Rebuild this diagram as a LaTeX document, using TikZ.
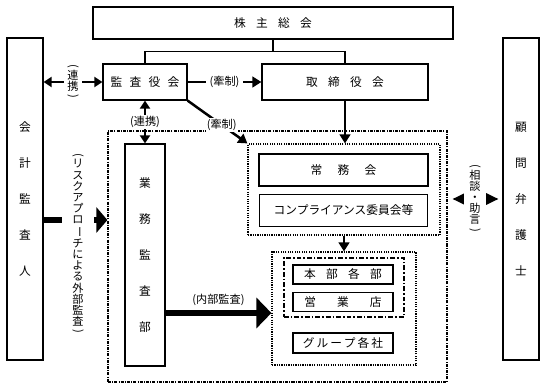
\documentclass[tikz,border=0pt]{standalone}
\usepackage{fontspec}
\usepackage{graphicx}
\setmainfont{Noto Sans CJK JP}
\usetikzlibrary{arrows.meta, positioning, calc}
\newlength\pxl
\setlength\pxl{0.03cm}
\newcommand\vop{\rotatebox[origin=c]{-90}{(}}
\newcommand\vcl{\rotatebox[origin=c]{-90}{)}}
\newcommand\vbar{\rotatebox[origin=c]{-90}{ー}}

\begin{document}
\begin{tikzpicture}[
  x=0.03cm, y=-0.03cm,
  box/.style={draw, line width=1pt, inner sep=0pt, font=\fontsize{10}{12}\selectfont},
  vbox/.style={box, align=center, font=\fontsize{10}{30.7}\selectfont},
  wh/.style 2 args={minimum width=#1\pxl, minimum height=#2\pxl},
  outerframe/.style={draw, line width=1pt, dash pattern=on 2.6pt off 1pt on 0.8pt off 1pt, inner sep=0pt},
  dotframe/.style={draw, line width=1pt, densely dotted, inner sep=0pt},
  chainframe/.style={draw, line width=1.3pt, dash pattern=on 4.2pt off 1.7pt on 1.3pt off 1.7pt, inner sep=0pt},
  lbl/.style={fill=white, inner sep=1pt, font=\fontsize{9.5}{9.5}\selectfont},
  vlbl/.style={lbl, align=center},
  link/.style={line width=1pt},
  dblarrow/.style={line width=0.07cm, {Triangle[length=0.24cm, width=0.3cm]}-{Triangle[length=0.24cm, width=0.3cm]}},
  arrow/.style={line width=0.075cm, -{Triangle[length=0.27cm, width=0.32cm]}},
  fatarrow/.style={line width=0.18cm, -{Triangle[#1]}},
  sodan/.style={line width=0.06cm, {Triangle[length=0.39cm, width=0.36cm]}-{Triangle[length=0.39cm, width=0.36cm]},
                shorten <=0.15cm, shorten >=0.12cm},
]
  \useasboundingbox (0,0) rectangle (546,389);

  % top level
  \node[box, wh={360}{32}] (soukai) at (273,23) {株\hspace{.88em}主\hspace{.88em}総\hspace{.88em}会};
  \node[box, wh={84}{36}] (kansa) at (145,82) {監\hspace{.62em}査\hspace{.62em}役\hspace{.62em}会};
  \node[box, wh={166}{36}] (torishimari) at (345,82) {取\hspace{.88em}締\hspace{.88em}役\hspace{.88em}会};
  \node[vbox, wh={36}{322}] (kaikei) at (25,199) {会\\計\\監\\査\\人};
  \node[vbox, wh={36}{322}] (komon) at (521,199) {顧\\問\\弁\\護\\士};

  % company
  \node[outerframe, wh={339}{251}] (shanai) at (277.5,256.5) {};
  \node[vbox, wh={40}{222}] (gyomu) at (145,255) {業\\務\\監\\査\\部};
  \node[dotframe, wh={192}{91}] (jomugrp) at (344,189.5) {};
  \node[box, wh={169}{32}] (jomu) at (343.5,170) {常\hspace{1.3em}務\hspace{1.3em}会};
  \node[box, wh={168}{32}, below=7\pxl of jomu] (comp) {コンプライアンス委員会等};
  \node[dotframe, wh={144}{113}] (kaku) at (344,308.5) {};
  \node[chainframe, wh={120}{59}] (honsha) at (344,287.5) {};
  \node[box, wh={100}{19}] (honbu) at (343,274.5) {本\hspace{.88em}部\hspace{.88em}各\hspace{.88em}部};
  \node[box, wh={100}{19}, below=7\pxl of honbu] (eigyo) {営\hspace{1.8em}業\hspace{1.8em}店};
  \node[box, wh={100}{20}] (group) at (343,343) {グ\hspace{.17em}ル\hspace{.17em}ー\hspace{.17em}プ\hspace{.17em}各\hspace{.17em}社};

  % connectors
  \draw[link] (soukai.south) -- ++(0,12) coordinate (fork);
  \draw[link] (kansa.north) |- (fork) -| (torishimari.north);
  \draw[dblarrow] (kaikei.east |- kansa.west) -- node[vlbl, inner xsep=3\pxl] {\vop\\[-.15em]連\\携\\[-.15em]\vcl} (kansa.west);
  \draw[arrow] (kansa.east) -- node[lbl, inner xsep=4\pxl] {(牽制)} (torishimari.west);
  \draw[dblarrow] (kansa.south) -- node[lbl] {(連携)} (gyomu.north);
  \draw[arrow] (kansa.south east) -- node[lbl, pos=.57] {(牽制)} (jomugrp.north west);
  \draw[arrow] (torishimari.south) -- (torishimari.south |- jomugrp.north);
  \draw[arrow] (jomugrp.south) -- (kaku.north);

  \coordinate (riskstart) at ($(kaikei.east)+(0,21)$);
  \draw[fatarrow={length=0.33cm, width=0.75cm}] (riskstart) -- (riskstart -| shanai.west);
  \node[vlbl, inner xsep=10\pxl] (risk) at (78,244)
    {\vop\\[-.15em]リ\\ス\\ク\\ア\\プ\\ロ\\\vbar\\チ\\に\\よ\\る\\外\\部\\監\\査\\[-.15em]\vcl};

  \coordinate (naibuend) at ($(kaku.west)+(0,4.5)$);
  \draw[fatarrow={length=0.45cm, width=0.9cm}] (gyomu.east |- naibuend) -- node[lbl, above=3\pxl, fill=none] {(内部監査)} (naibuend);

  \draw[sodan] (shanai.east |- komon.west) -- node[vlbl, inner xsep=5\pxl] {\vop\\[-.15em]相\\談\\・\\助\\言\\[-.15em]\vcl} (komon.west);
\end{tikzpicture}
\end{document}
